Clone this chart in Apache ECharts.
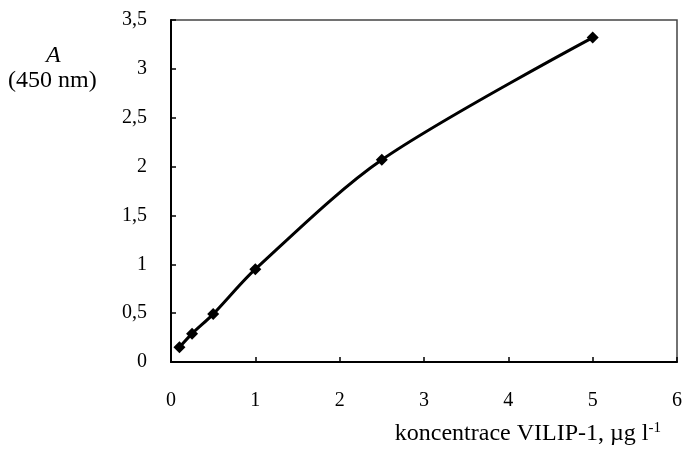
<!DOCTYPE html>
<html><head><meta charset="utf-8">
<script src="https://cdn.jsdelivr.net/npm/echarts@6/dist/echarts.min.js"></script>
<style>html,body{margin:0;padding:0;background:#fff}#c{width:685px;height:452px}</style>
</head><body><div id="c"></div>
<script>
const concentrations = [0.1, 0.25, 0.5, 1, 2.5, 5];
const absorbance = [0.15, 0.29, 0.49, 0.95, 2.07, 3.32];
const yTickLabels = ['0','0,5','1','1,5','2','2,5','3','3,5'];
const xTickLabels = ['0','1','2','3','4','5','6'];

const chart = echarts.init(document.getElementById('c'));
const font = '"Liberation Serif", "Times New Roman", serif';
chart.setOption({
  animation: false,
  textStyle: { fontFamily: font },
  grid: { left: 171, right: 8, top: 20, bottom: 90, show: true, borderColor: '#444', borderWidth: 1.5 },
  xAxis: {
    type: 'value', min: 0, max: 6, interval: 1,
    axisLine: { show: true, lineStyle: { color: '#000', width: 2 } },
    axisTick: { show: true, inside: true, length: 5, lineStyle: { color: '#000', width: 1.5 } },
    splitLine: { show: false },
    axisLabel: { color: '#000', fontSize: 20, fontFamily: font, margin: 29,
      formatter: v => xTickLabels[Math.round(v)] }
  },
  yAxis: {
    type: 'value', min: 0, max: 3.5, interval: 0.5,
    axisLine: { show: true, lineStyle: { color: '#000', width: 2 } },
    axisTick: { show: true, inside: true, length: 5, lineStyle: { color: '#000', width: 1.5 } },
    splitLine: { show: false },
    axisLabel: { color: '#000', fontSize: 20, fontFamily: font, margin: 24,
      formatter: v => yTickLabels[Math.round(v * 2)] }
  },
  graphic: [
    { type: 'text', left: 46, top: 44, style: { text: 'A', fontStyle: 'italic', fontSize: 24, fontFamily: 'Liberation Serif', fill: '#000' } },
    { type: 'text', left: 8, top: 69, style: { text: '(450 nm)', fontSize: 24, fontFamily: 'Liberation Serif', fill: '#000' } },
    { type: 'text', right: 24, top: 421, style: {
        text: '{t|koncentrace VILIP-1, µg l}{s|-1}',
        rich: {
          t: { fontSize: 24, fontFamily: font, fill: '#000', color: '#000' },
          s: { fontSize: 15, fontFamily: font, fill: '#000', color: '#000', padding: [0, 0, 10, 0] }
        }
    } }
  ],
  series: [{
    type: 'line',
    data: concentrations.map((x, i) => [x, absorbance[i]]),
    smooth: 0.3,
    symbol: 'diamond', symbolSize: 12,
    itemStyle: { color: '#000' },
    lineStyle: { color: '#000', width: 3 }
  }]
});
</script></body></html>
